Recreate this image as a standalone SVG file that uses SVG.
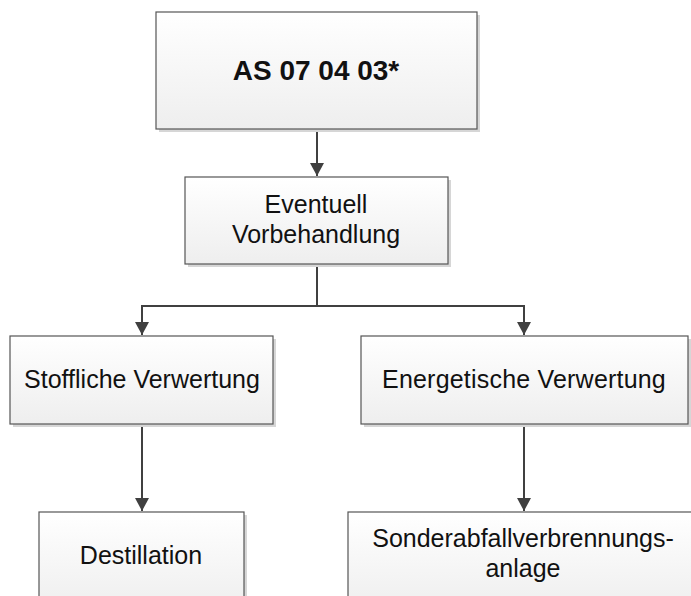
<svg xmlns="http://www.w3.org/2000/svg" width="691" height="596" viewBox="0 0 691 596">
  <style>
    .box { fill: url(#boxFill); stroke: #555555; stroke-width: 1.2; }
    .shadow { fill: #d6d6d6; }
    .lbl { font-family: "Liberation Sans", Arial, sans-serif; font-size: 25px; fill: #111; text-anchor: middle; }
    .title { font-family: "Liberation Sans", Arial, sans-serif; font-size: 28px; font-weight: bold; fill: #111; text-anchor: middle; }
    .edge { fill: none; stroke: #404040; stroke-width: 2; }
  </style>
  <defs>
    <linearGradient id="boxFill" x1="0" y1="0" x2="0" y2="1">
      <stop offset="0" stop-color="#ffffff"/>
      <stop offset="1" stop-color="#eeeeee"/>
    </linearGradient>
    <marker id="arrow" markerWidth="14" markerHeight="14" refX="13" refY="7" orient="auto" markerUnits="userSpaceOnUse">
      <path d="M0,0 L13,7 L0,14 Z" fill="#404040"/>
    </marker>
  </defs>

  <rect width="691" height="596" fill="#ffffff"/>

  <g id="connectors">
    <path class="edge" d="M317,129 V176" marker-end="url(#arrow)"/>
    <path class="edge" d="M317,264 V306 H142 V335" marker-end="url(#arrow)"/>
    <path class="edge" d="M317,306 H524 V335" marker-end="url(#arrow)"/>
    <path class="edge" d="M142,424 V511" marker-end="url(#arrow)"/>
    <path class="edge" d="M524,424 V511" marker-end="url(#arrow)"/>
  </g>

  <g id="node-as">
    <rect class="shadow" x="159" y="15" width="321" height="117"/>
    <rect class="box" x="156" y="12" width="321" height="117"/>
    <text class="title" x="316" y="80">AS 07 04 03*</text>
  </g>

  <g id="node-vorbehandlung">
    <rect class="shadow" x="188" y="180" width="263" height="87"/>
    <rect class="box" x="185" y="177" width="263" height="87"/>
    <text class="lbl" x="316" y="213">Eventuell</text>
    <text class="lbl" x="316" y="243">Vorbehandlung</text>
  </g>

  <g id="node-stofflich">
    <rect class="shadow" x="13" y="339" width="263" height="88"/>
    <rect class="box" x="10" y="336" width="263" height="88"/>
    <text class="lbl" x="142" y="388">Stoffliche Verwertung</text>
  </g>

  <g id="node-energetisch">
    <rect class="shadow" x="364" y="339" width="327" height="88"/>
    <rect class="box" x="361" y="336" width="327" height="88"/>
    <text class="lbl" x="524" y="388" letter-spacing="0.2">Energetische Verwertung</text>
  </g>

  <g id="node-destillation">
    <rect class="shadow" x="42" y="515" width="205" height="100"/>
    <rect class="box" x="39" y="512" width="205" height="100"/>
    <text class="lbl" x="141" y="564">Destillation</text>
  </g>

  <g id="node-verbrennung">
    <rect class="shadow" x="351" y="515" width="360" height="100"/>
    <rect class="box" x="348" y="512" width="360" height="100"/>
    <text class="lbl" x="523" y="547">Sonderabfallverbrennungs-</text>
    <text class="lbl" x="523" y="577">anlage</text>
  </g>
</svg>
